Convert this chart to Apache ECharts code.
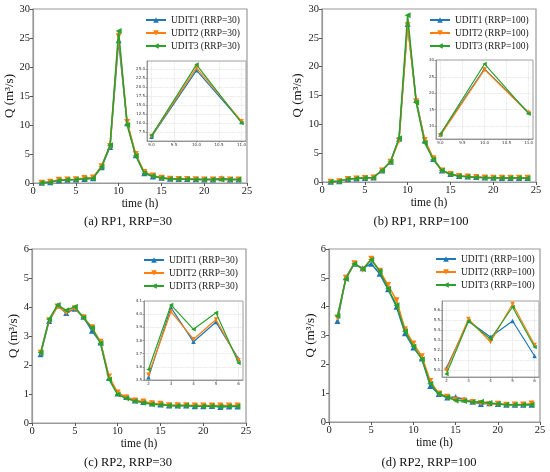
<!DOCTYPE html>
<html>
<head>
<meta charset="utf-8">
<script src="https://cdn.jsdelivr.net/npm/echarts@6/dist/echarts.min.js"></script>
<style>
html, body { margin: 0; padding: 0; background: #fff; }
#echarts { width: 550px; height: 472px; }
</style>
</head>
<body>
<div id="echarts"></div>
<script>
// hours on the x axis
var hours = [1, 2, 3, 4, 5, 6, 7, 8, 9, 10, 11, 12, 13, 14, 15, 16, 17, 18, 19, 20, 21, 22, 23, 24];

// (a) RP1, RRP=30
var rp1_30_udit1 = [0.05, 0.15, 0.45, 0.55, 0.6, 0.7, 0.8, 2.7, 6.2, 24.6, 10.3, 4.8, 1.7, 1.1, 0.9, 0.75, 0.7, 0.7, 0.65, 0.6, 0.6, 0.8, 0.6, 0.6];
var rp1_30_udit2 = [0.05, 0.2, 0.55, 0.6, 0.65, 0.85, 0.95, 2.9, 6.4, 25.3, 10.5, 5.0, 1.9, 1.3, 0.9, 0.75, 0.7, 0.7, 0.65, 0.6, 0.6, 0.65, 0.6, 0.6];
var rp1_30_udit3 = [0.05, 0.15, 0.45, 0.55, 0.6, 0.7, 0.8, 2.8, 6.5, 26.2, 10.0, 4.7, 1.7, 1.2, 0.85, 0.7, 0.7, 0.65, 0.6, 0.6, 0.6, 0.6, 0.6, 0.6];

// (b) RP1, RRP=100
var rp1_100_udit1 = [0.05, 0.15, 0.5, 0.6, 0.7, 0.8, 2.0, 3.5, 7.5, 27.4, 14.2, 7.2, 4.0, 2.0, 1.4, 1.05, 0.95, 0.85, 0.8, 0.75, 0.7, 0.7, 0.7, 0.7];
var rp1_100_udit2 = [0.05, 0.15, 0.5, 0.6, 0.7, 0.8, 2.0, 3.5, 7.2, 27.2, 14.0, 7.3, 4.1, 2.0, 1.4, 1.05, 0.95, 0.85, 0.8, 0.75, 0.75, 0.75, 0.75, 0.75];
var rp1_100_udit3 = [0.05, 0.15, 0.5, 0.6, 0.7, 0.8, 2.0, 3.5, 7.6, 28.9, 13.8, 6.8, 3.9, 2.0, 1.35, 1.0, 0.9, 0.8, 0.75, 0.7, 0.7, 0.7, 0.7, 0.65];

// (c) RP2, RRP=30
var rp2_30_udit1 = [2.37, 3.52, 4.05, 3.79, 3.94, 3.66, 3.18, 2.78, 1.55, 1.02, 0.9, 0.78, 0.72, 0.67, 0.64, 0.6, 0.6, 0.6, 0.58, 0.58, 0.59, 0.55, 0.57, 0.57];
var rp2_30_udit2 = [2.42, 3.54, 4.02, 3.81, 3.96, 3.65, 3.3, 2.8, 1.6, 1.05, 0.88, 0.78, 0.74, 0.68, 0.66, 0.61, 0.61, 0.61, 0.6, 0.6, 0.6, 0.6, 0.6, 0.6];
var rp2_30_udit3 = [2.42, 3.58, 4.07, 3.885, 4.01, 3.63, 3.28, 2.75, 1.5, 0.98, 0.85, 0.76, 0.7, 0.65, 0.63, 0.6, 0.59, 0.6, 0.58, 0.58, 0.59, 0.57, 0.58, 0.58];

// (d) RP2, RRP=100
var rp2_100_udit1 = [3.5, 5.02, 5.49, 5.33, 5.49, 5.14, 4.6, 4.0, 3.08, 2.58, 2.2, 1.25, 0.97, 0.85, 0.87, 0.78, 0.7, 0.62, 0.65, 0.62, 0.6, 0.6, 0.6, 0.6];
var rp2_100_udit2 = [3.62, 5.0, 5.51, 5.28, 5.66, 5.25, 4.75, 4.22, 3.22, 2.72, 2.28, 1.42, 0.99, 0.88, 0.77, 0.75, 0.69, 0.66, 0.62, 0.63, 0.6, 0.61, 0.61, 0.64];
var rp2_100_udit3 = [3.68, 4.96, 5.49, 5.31, 5.63, 5.23, 4.62, 4.05, 3.15, 2.62, 2.18, 1.33, 0.98, 0.86, 0.75, 0.73, 0.69, 0.7, 0.66, 0.63, 0.6, 0.6, 0.6, 0.6];

// hours shown in each zoomed inset
var insetHours = [[9, 11], [9, 11], [2, 6], [2, 6]];

var captions = ['(a) RP1, RRP=30', '(b) RP1, RRP=100', '(c) RP2, RRP=30', '(d) RP2, RRP=100'];
var rrpValues = ['30', '100', '30', '100'];
var panelData = [
    [rp1_30_udit1, rp1_30_udit2, rp1_30_udit3],
    [rp1_100_udit1, rp1_100_udit2, rp1_100_udit3],
    [rp2_30_udit1, rp2_30_udit2, rp2_30_udit3],
    [rp2_100_udit1, rp2_100_udit2, rp2_100_udit3]
];

var chart = echarts.init(document.getElementById('echarts'));

var FONT = 'Liberation Serif';
var colors = ['#1f77b4', '#ff7f0e', '#2ca02c'];
var symbolRot = [0, 180, 90];   // ^  v  <

// layout of the four main plots and the insets (pixels)
var mainGrids = [
    { left: 33, top: 9, width: 214, height: 174 },
    { left: 322, top: 9, width: 214, height: 173 },
    { left: 32, top: 249, width: 214, height: 174 },
    { left: 329, top: 249, width: 211, height: 173 }
];
var insetGrids = [
    { left: 147, top: 61, width: 99, height: 80 },
    { left: 436, top: 60, width: 97, height: 79 },
    { left: 144, top: 301, width: 99, height: 79 },
    { left: 442, top: 301, width: 97, height: 76 }
];
var insetX = [
    { min: 8.9, max: 11.1, splitNumber: 4, fmt: 1 },
    { min: 8.9, max: 11.1, splitNumber: 4, fmt: 1 },
    { min: 1.8, max: 6.2, splitNumber: 4, fmt: 0 },
    { min: 1.8, max: 6.2, splitNumber: 4, fmt: 0 }
];
var insetY = [
    { min: 5, max: 27.2, interval: 2.5, fmt: 1, hideEnds: true },
    { min: 6.1, max: 30.1, splitNumber: 5, fmt: 0, hideEnds: true },
    { min: 3.5, max: 4.1, interval: 0.1, fmt: 1, hideEnds: false },
    { min: 4.93, max: 5.69, splitNumber: 7, fmt: 1, hideEnds: true }
];
var legendPos = [
    { left: 145, top: 15 },
    { left: 429, top: 15 },
    { left: 143, top: 255 },
    { left: 435, top: 254 }
];
var captionPos = [[128, 222], [421, 222], [128, 463], [429, 463]];
var yNameGap = [15, 18, 11, 11];

function pts(ys, range) {
    var out = [];
    hours.forEach(function (h, i) {
        if (!range || (h >= range[0] && h <= range[1])) {
            out.push([h, ys[i]]);
        }
    });
    return out;
}

var grids = [], xAxes = [], yAxes = [], series = [], legends = [], graphics = [];

for (var p = 0; p < 4; p++) {
    var names = [1, 2, 3].map(function (k) {
        return 'UDIT' + k + ' (RRP=' + rrpValues[p] + ')';
    });

    // main plot
    grids.push(Object.assign({ show: true, borderColor: '#999', borderWidth: 1.2 }, mainGrids[p]));
    xAxes.push({
        type: 'value', gridIndex: p, min: 0, max: 25, interval: 5,
        name: 'time (h)', nameLocation: 'middle', nameGap: 12,
        nameTextStyle: { fontFamily: FONT, fontSize: 11.5, color: '#111' },
        axisLine: { lineStyle: { color: '#999', width: 1.2 } },
        axisTick: { length: 3, lineStyle: { color: '#555' } },
        axisLabel: { fontFamily: FONT, fontSize: 10.5, color: '#222', margin: 3 },
        splitLine: { show: false }
    });
    yAxes.push({
        type: 'value', gridIndex: p, min: 0, max: p < 2 ? 30 : 6, interval: p < 2 ? 5 : 1,
        name: 'Q (m³/s)', nameLocation: 'middle', nameGap: yNameGap[p], nameRotate: 90,
        nameTextStyle: { fontFamily: FONT, fontSize: 13, color: '#111' },
        axisLine: { show: true, lineStyle: { color: '#999', width: 1.2 } },
        axisTick: { show: true, length: 3, lineStyle: { color: '#555' } },
        axisLabel: { fontFamily: FONT, fontSize: 10.5, color: '#222', margin: 3 },
        splitLine: { show: false }
    });

    legends.push({
        data: names, orient: 'vertical', left: legendPos[p].left, top: legendPos[p].top,
        itemWidth: 20, itemHeight: 7, itemGap: 3, padding: 0,
        textStyle: { fontFamily: FONT, fontSize: 9.5, color: '#222' }
    });

    graphics.push({
        type: 'text', x: captionPos[p][0], y: captionPos[p][1],
        style: { text: captions[p], font: '12.5px "Liberation Serif"', fill: '#111', textAlign: 'center', textVerticalAlign: 'middle' }
    });
}

for (var q = 0; q < 4; q++) {
    var gi = q + 4;
    var ix = insetX[q], iy = insetY[q];
    grids.push(Object.assign({ show: true, borderColor: '#888', borderWidth: 0.8, backgroundColor: '#fff', z: 3 }, insetGrids[q]));
    xAxes.push({
        type: 'value', gridIndex: gi, min: ix.min, max: ix.max, splitNumber: ix.splitNumber, z: 4,
        axisLine: { lineStyle: { color: '#888', width: 0.8 } },
        axisTick: { length: 1.5, lineStyle: { color: '#666', width: 0.6 } },
        axisLabel: {
            fontFamily: 'DejaVu Sans', fontSize: 4, color: '#333', margin: 2,
            showMinLabel: false, showMaxLabel: false,
            formatter: (function (d) { return function (v) { return v.toFixed(d); }; })(ix.fmt)
        },
        splitLine: { show: true, lineStyle: { type: 'dotted', color: '#ccc', width: 0.6 } }
    });
    var yAx = {
        type: 'value', gridIndex: gi, min: iy.min, max: iy.max, z: 4,
        axisLine: { show: true, lineStyle: { color: '#888', width: 0.8 } },
        axisTick: { show: true, length: 1.5, lineStyle: { color: '#666', width: 0.6 } },
        axisLabel: {
            fontFamily: 'DejaVu Sans', fontSize: 4, color: '#333', margin: 2,
            showMinLabel: !iy.hideEnds, showMaxLabel: !iy.hideEnds,
            formatter: (function (d) { return function (v) { return v.toFixed(d); }; })(iy.fmt)
        },
        splitLine: { show: true, lineStyle: { type: 'dotted', color: '#ccc', width: 0.6 } }
    };
    if (iy.interval) { yAx.interval = iy.interval; } else { yAx.splitNumber = iy.splitNumber; }
    yAxes.push(yAx);
}

// 3 series per panel, once in the main plot and once in the inset
for (var s = 0; s < 4; s++) {
    for (var k = 0; k < 3; k++) {
        var nm = 'UDIT' + (k + 1) + ' (RRP=' + rrpValues[s] + ')';
        series.push({
            name: nm, type: 'line', xAxisIndex: s, yAxisIndex: s, z: 2 + k * 0.1,
            data: pts(panelData[s][k]),
            symbol: 'triangle', symbolSize: 6, symbolRotate: symbolRot[k], showAllSymbol: true,
            lineStyle: { color: colors[k], width: 1.5 },
            itemStyle: { color: colors[k] },
            animation: false
        });
        series.push({
            name: nm, type: 'line', xAxisIndex: s + 4, yAxisIndex: s + 4, z: 5 + k * 0.1,
            data: pts(panelData[s][k], insetHours[s]),
            symbol: 'triangle', symbolSize: 4.5, symbolRotate: symbolRot[k], showAllSymbol: true,
            lineStyle: { color: colors[k], width: 1.2 },
            itemStyle: { color: colors[k] },
            animation: false
        });
    }
}

var options = {
    backgroundColor: '#fff',
    animation: false,
    grid: grids,
    xAxis: xAxes,
    yAxis: yAxes,
    legend: legends,
    series: series,
    graphic: graphics
};

chart.setOption(options);
</script>
</body>
</html>
